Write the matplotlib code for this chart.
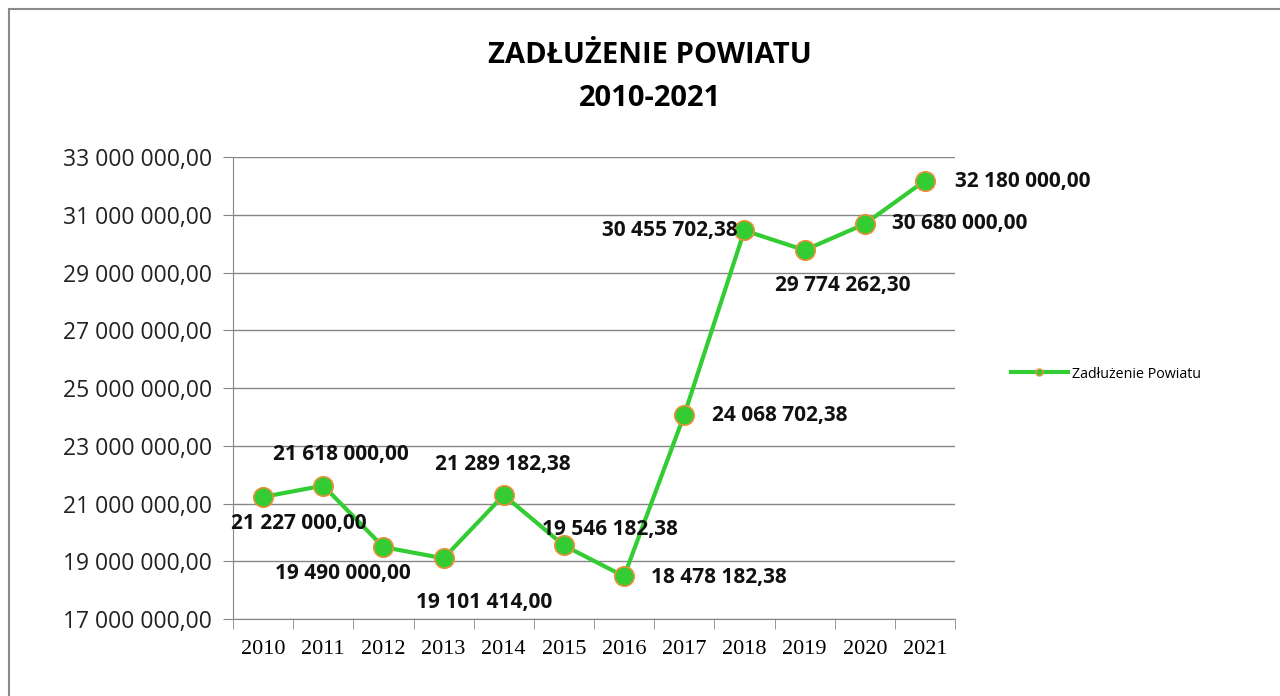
import matplotlib
matplotlib.use('Agg')
import matplotlib.pyplot as plt
from matplotlib.lines import Line2D
from matplotlib.ticker import FuncFormatter, FixedLocator

years = ['2010', '2011', '2012', '2013', '2014', '2015', '2016',
         '2017', '2018', '2019', '2020', '2021']
debt = [21227000.00, 21618000.00, 19490000.00, 19101414.00, 21289182.38,
        19546182.38, 18478182.38, 24068702.38, 30455702.38, 29774262.30,
        30680000.00, 32180000.00]
series_name = 'Zadłużenie Powiatu'
title_text = 'ZADŁUŻENIE POWIATU\n2010-2021'

# label offsets in pixels (dx, dy) relative to the point
label_offsets = [(36, -27), (18, 31), (-41, -26), (41, -44), (-1, 31), (46, 16),
                 (95, -1), (95, -1), (-75, 0), (38, -35), (95, 0), (98, -1)]

GREEN = '#33cc33'
ORANGE = '#e8913a'
GRID = '#868686'


def pl_format(v: float) -> str:
    s = f'{v:,.2f}'
    return s.replace(',', ' ').replace('.', ',')


fig = plt.figure(figsize=(12.8, 6.96), dpi=100)
ax = fig.add_axes([233 / 1280, 77 / 696, 722 / 1280, 462 / 696])

xs = list(range(len(years)))
ax.plot(xs, debt, color=GREEN, lw=3, marker='o', markersize=14,
        markerfacecolor=GREEN, markeredgecolor=ORANGE, markeredgewidth=1.2,
        zorder=3)

for x, v, (dx, dy) in zip(xs, debt, label_offsets):
    ax.annotate(pl_format(v), (x, v), xytext=(dx, dy), textcoords='offset pixels',
                ha='center', va='center', fontsize=15, fontweight='bold',
                family='Open Sans', color='#111111', zorder=4)

ax.set_xlim(-0.5, len(years) - 0.5)
ax.set_ylim(17000000, 33000000)
ax.set_yticks(range(17000000, 33000001, 2000000))
ax.yaxis.set_major_formatter(FuncFormatter(lambda v, p: pl_format(v)))
ax.set_xticks(xs)
ax.set_xticklabels(years, family='Liberation Serif', fontsize=16)
ax.xaxis.set_minor_locator(FixedLocator([i - 0.5 for i in range(len(years) + 1)]))
ax.tick_params(axis='x', which='major', length=0, pad=15)
ax.tick_params(axis='x', which='minor', length=7, color=GRID)
ax.tick_params(axis='y', length=7, color=GRID, pad=8)
for lab in ax.get_yticklabels():
    lab.set_family('Open Sans')
    lab.set_fontsize(16.5)
    lab.set_color('#222222')

ax.grid(axis='y', color=GRID, lw=1)
ax.set_axisbelow(True)
for side in ['top', 'right']:
    ax.spines[side].set_visible(False)
for side in ['left', 'bottom']:
    ax.spines[side].set_color(GRID)

fig.text(650 / 1280, 1 - 77 / 696, title_text, ha='center', va='center',
         fontsize=21, fontweight='bold', family='Open Sans', linespacing=1.6)

handle = Line2D([], [], color=GREEN, lw=3, marker='o', markersize=5,
                markerfacecolor=GREEN, markeredgecolor=ORANGE)
fig.legend([handle], [series_name], loc='center left',
           bbox_to_anchor=(998 / 1280, 1 - 374 / 696), frameon=False,
           prop={'family': 'Open Sans', 'size': 10.3}, handlelength=4.0,
           handletextpad=0.3)

# outer chart border
fig.add_artist(Line2D([9 / 1280, 9 / 1280], [0, 1 - 9 / 696], color='#8a8a8a', lw=1.5))
fig.add_artist(Line2D([9 / 1280, 1], [1 - 9 / 696, 1 - 9 / 696], color='#8a8a8a', lw=1.5))

fig.savefig('out.png', dpi=100)
